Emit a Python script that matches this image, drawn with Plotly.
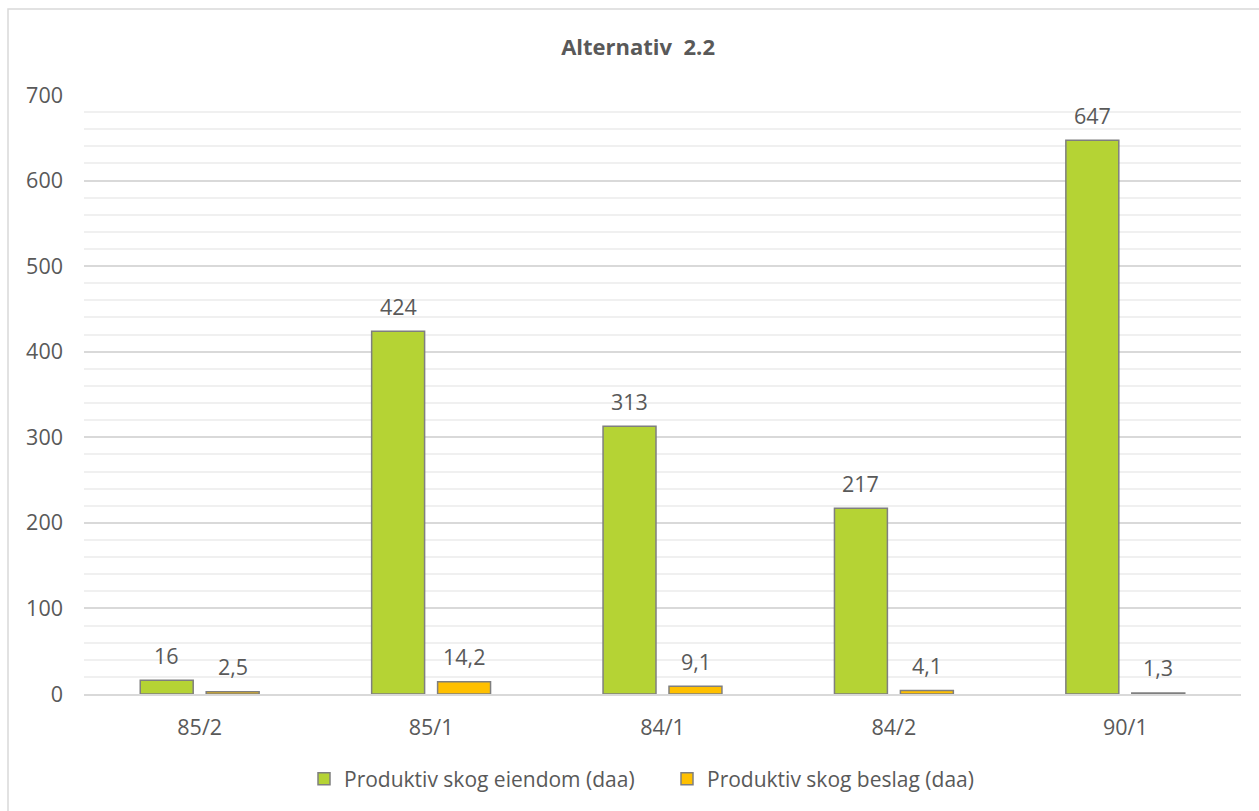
import plotly.graph_objects as go

categories = ["85/2", "85/1", "84/1", "84/2", "90/1"]
eiendom = [16, 424, 313, 217, 647]
beslag = [2.5, 14.2, 9.1, 4.1, 1.3]
series_names = ["Produktiv skog eiendom (daa)", "Produktiv skog beslag (daa)"]
y_ticks = [0, 100, 200, 300, 400, 500, 600, 700]
title_text = "Alternativ\u00a0 2.2"

FONT = "Open Sans"
TXT = "#595959"
GREEN = "#B5D334"
ORANGE = "#FFC000"
EDGE = "#7F7F7F"
FS = 21.5

def fmt(v):
    s = f"{v:g}"
    return s.replace(".", ",")

fig = go.Figure()
fig.add_trace(go.Bar(x=categories, y=eiendom, name=series_names[0],
                     marker=dict(color=GREEN, line=dict(color=EDGE, width=1.5))))
fig.add_trace(go.Bar(x=categories, y=beslag, name=series_names[1],
                     marker=dict(color=ORANGE, line=dict(color=EDGE, width=1.5))))

annotations = []
for vals, shift in ((eiendom, -33), (beslag, 33)):
    for c, v in zip(categories, vals):
        annotations.append(dict(x=c, y=v, xref="x", yref="y", text=fmt(v),
                                showarrow=False, xshift=shift, yshift=25,
                                yanchor="middle", xanchor="center",
                                font=dict(family=FONT, size=FS, color=TXT)))

fig.update_layout(
    width=1259, height=811,
    margin=dict(l=84, r=18, t=95, b=117, autoexpand=False),
    paper_bgcolor="white", plot_bgcolor="white",
    barmode="group", bargap=0.43, bargroupgap=0.197,
    font=dict(family=FONT, size=FS, color=TXT),
    title=dict(text="<b>" + title_text + "</b>", xref="container", yref="container",
               x=0.5068, y=1 - 47 / 811, xanchor="center", yanchor="middle",
               font=dict(family=FONT, size=22, color=TXT)),
    legend=dict(orientation="h", xref="container", yref="container",
                x=304 / 1259, y=1 - 779 / 811, xanchor="left", yanchor="middle",
                entrywidth=318, entrywidthmode="pixels",
                font=dict(family=FONT, size=21, color=TXT),
                itemclick=False),
    annotations=annotations,
    shapes=[dict(type="rect", xref="paper", yref="paper",
                 x0=(8 - 84) / 1157, x1=1.1, y0=-0.5, y1=(694 - 9) / 599,
                 line=dict(color="#D9D9D9", width=1.5), fillcolor="rgba(0,0,0,0)",
                 layer="below")],
)
fig.update_xaxes(type="category", showgrid=False, showline=True, linecolor="#D9D9D9",
                 linewidth=1.5, ticks="", ticklabelstandoff=13, automargin=False,
                 tickfont=dict(family=FONT, size=FS, color=TXT), fixedrange=True)
fig.update_yaxes(range=[0, 700], tickvals=y_ticks, showgrid=True, gridcolor="#D9D9D9",
                 gridwidth=1.5, zeroline=False, showline=False, ticks="",
                 ticklabelstandoff=20, automargin=False,
                 minor=dict(dtick=20, showgrid=True, gridcolor="#F0F0F0", gridwidth=1.5),
                 tickfont=dict(family=FONT, size=FS, color=TXT), fixedrange=True)

fig.write_html("out.html")
